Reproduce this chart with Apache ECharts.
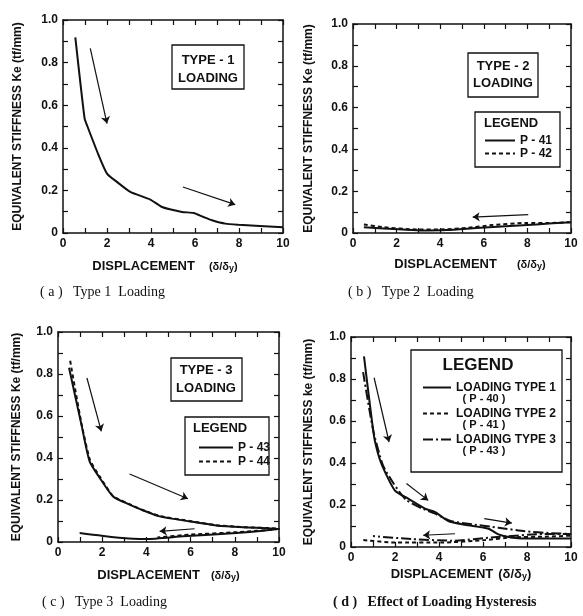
<!DOCTYPE html>
<html>
<head>
<meta charset="utf-8">
<script src="https://cdn.jsdelivr.net/npm/echarts@6/dist/echarts.min.js"></script>
<style>html,body{margin:0;padding:0;background:#fff}#c{width:583px;height:616px}</style>
</head>
<body>
<div id="c"></div>
<script>
// ---------------- data (x = displacement δ/δy, y = Ke tf/mm) ----------------
const xTickValues = [0, 2, 4, 6, 8, 10];
const yTickValues = [0, 0.2, 0.4, 0.6, 0.8, 1.0];

// (a) Type 1 loading
const a_P40 = [[0.56,0.918],[0.98,0.538],[1.09,0.506],[1.62,0.365],[2.0,0.279],[2.45,0.24],[3.06,0.193],[3.97,0.157],[4.5,0.122],[5.41,0.099],[5.94,0.094],[6.39,0.075],[6.77,0.06],[7.38,0.044],[7.98,0.039],[10,0.027]];
// (b) Type 2 loading
const b_P41 = [[0.5,0.028],[1.85,0.019],[3.07,0.012],[4.3,0.014],[5.67,0.024],[7.2,0.034],[8.4,0.041],[10,0.052]];
const b_P42 = [[0.5,0.041],[1.39,0.028],[2.92,0.017],[4.0,0.017],[5.2,0.024],[6.4,0.038],[7.97,0.048],[9.0,0.048],[10,0.052]];
// (c) Type 3 loading (out to 10, then back)
const c_P43 = [[0.5,0.83],[1.06,0.559],[1.43,0.384],[1.89,0.305],[2.49,0.217],[3.24,0.178],[3.77,0.154],[4.6,0.122],[5.96,0.098],[7.16,0.079],[8.37,0.07],[10,0.062],[8.07,0.043],[5.66,0.027],[4.0,0.014],[2.64,0.022],[0.98,0.043]];
const c_P44 = [[0.55,0.863],[1.06,0.565],[1.45,0.39],[1.9,0.31],[2.5,0.218],[3.24,0.18],[3.77,0.155],[4.6,0.124],[5.96,0.1],[7.16,0.08],[8.37,0.071],[10,0.063],[8.1,0.047],[6.0,0.035],[4.5,0.022]];
// (d) Effect of loading hysteresis
const d_T1 = [[0.59,0.908],[0.93,0.619],[1.08,0.508],[1.38,0.397],[1.99,0.27],[2.6,0.23],[3.36,0.183],[3.81,0.167],[4.42,0.124],[5.18,0.106],[6.25,0.087],[6.7,0.06],[7.16,0.048],[7.9,0.04],[10,0.04]];
const d_T2 = [[0.56,0.033],[2.0,0.021],[4.1,0.021],[6.1,0.033],[7.3,0.046],[8.8,0.049],[10,0.054]];
const d_T3 = [[0.55,0.833],[1.0,0.56],[1.45,0.39],[1.95,0.3],[2.5,0.225],[3.3,0.18],[3.8,0.16],[4.5,0.125],[5.5,0.108],[6.7,0.092],[7.9,0.075],[9.1,0.066],[10,0.062],[8.8,0.062],[6.5,0.046],[4.6,0.03],[2.76,0.038],[1.0,0.052]];

// direction arrows [start, end] in data units
const arrowsA = [[[1.24,0.867],[2.0,0.514]], [[5.45,0.216],[7.83,0.133]]];
const arrowsB = [[[8.04,0.088],[5.49,0.076]]];
const arrowsC = [[[1.31,0.781],[1.96,0.527]], [[3.24,0.324],[5.88,0.206]], [[6.18,0.063],[4.6,0.051]]];
const arrowsD = [[[1.05,0.806],[1.73,0.5]], [[2.52,0.302],[3.51,0.222]], [[6.06,0.135],[7.31,0.114]], [[4.73,0.063],[3.28,0.056]]];

// ---------------- layout ----------------
const INK = '#111';
const SANS = 'Liberation Sans';
const SERIF = 'Liberation Serif';
const grids = [
  {left:63,  top:20,  width:220, height:213},
  {left:353, top:24,  width:218, height:209},
  {left:58,  top:332, width:221, height:210},
  {left:351, top:337, width:220, height:210}
];
const xNameGap = [27, 25, 27, 21];
const xNamePad = [[0,16,0,0],[0,0,0,16],[0,0,0,0],[0,0,0,0]];
const xNameSpace = [14, 20, 11, 5];
const yNameGap = [39, 38, 35, 36];
const yNames = ['EQUIVALENT STIFFNESS Ke (tf/mm)','EQUIVALENT STIFFNESS Ke (tf/mm)','EQUIVALENT STIFFNESS Ke (tf/mm)','EQUIVALENT STIFFNESS ke (tf/mm)'];

const tickCommon = {
  axisLine:{show:true,onZero:false,lineStyle:{color:INK,width:1.5}},
  axisTick:{show:true,inside:true,length:5,lineStyle:{color:INK,width:1.2}},
  minorTick:{show:true,splitNumber:2,length:5,lineStyle:{color:INK,width:1.2}},
  splitLine:{show:false}, minorSplitLine:{show:false}
};

const xAxes = [], yAxes = [];
grids.forEach((g, i) => {
  xAxes.push(Object.assign({
    type:'value', gridIndex:i, position:'bottom', min:xTickValues[0], max:xTickValues[xTickValues.length-1], interval:2,
    axisLabel:{color:INK, fontSize:12, fontWeight:'bold', fontFamily:SANS, margin:5},
    name:'{m|DISPLACEMENT}{g|}{p|(δ/δ}{s|y}{p|)}', nameLocation:'middle', nameGap:xNameGap[i],
    nameTextStyle:{padding:xNamePad[i], rich:{
      m:{fontSize:13,fontWeight:'bold',fontFamily:SANS,color:INK},
      g:{width:xNameSpace[i]},
      p:{fontSize:i===3?13:11,fontWeight:'bold',fontFamily:SANS,color:INK},
      s:{fontSize:9,fontWeight:'bold',fontFamily:SANS,color:INK,verticalAlign:'bottom',padding:[3,0,0,0]}
    }}
  }, tickCommon));
  xAxes.push(Object.assign({
    type:'value', gridIndex:i, position:'top', min:0, max:10, interval:2, axisLabel:{show:false}
  }, tickCommon));
  yAxes.push(Object.assign({
    type:'value', gridIndex:i, position:'left', min:yTickValues[0], max:yTickValues[yTickValues.length-1], interval:0.2,
    axisLabel:{color:INK, fontSize:12, fontWeight:'bold', fontFamily:SANS, margin:5,
      formatter:v => v === 0 ? '0' : v.toFixed(1)},
    name:yNames[i], nameLocation:'middle', nameGap:yNameGap[i],
    nameTextStyle:{fontSize:12, fontWeight:'bold', fontFamily:SANS, color:INK}
  }, tickCommon));
  yAxes.push(Object.assign({
    type:'value', gridIndex:i, position:'right', min:0, max:1, interval:0.2, axisLabel:{show:false}
  }, tickCommon));
});

const SOLID = 'solid', DASH = [4,3], DASHDOT = [10,3,2,3];
function line(name, gi, data, type) {
  return {name, type:'line', xAxisIndex:2*gi, yAxisIndex:2*gi, data, symbol:'none', showSymbol:false, smooth:0.2,
    lineStyle:{color:INK, width:2, type}, itemStyle:{color:INK}, z:3, silent:true};
}
function arrows(gi, arr) {
  return {type:'lines', coordinateSystem:'cartesian2d', xAxisIndex:2*gi, yAxisIndex:2*gi,
    symbol:['none','arrow'], symbolSize:7, silent:true, z:4,
    lineStyle:{color:INK, width:1.2, opacity:1, curveness:0},
    data:arr.map(c => ({coords:c}))};
}

const series = [
  line('P-40', 0, a_P40, SOLID),
  line('P-41', 1, b_P41, SOLID),
  line('P-42', 1, b_P42, DASH),
  line('P-43', 2, c_P43, SOLID),
  line('P-44', 2, c_P44, DASH),
  line('LOADING TYPE 1', 3, d_T1, SOLID),
  line('LOADING TYPE 2', 3, d_T2, DASH),
  line('LOADING TYPE 3', 3, d_T3, DASHDOT),
  arrows(0, arrowsA), arrows(1, arrowsB), arrows(2, arrowsC), arrows(3, arrowsD)
];

const legendText = {color:INK, fontSize:12, fontWeight:'bold', fontFamily:SANS};
const hiddenSymbol = {opacity:0, borderWidth:0};
const legendLine = {width:2};
const legends = [
  {data:['P-41','P-42'], orient:'vertical', left:479, top:129, itemWidth:30, itemHeight:10, itemGap:0, itemStyle:hiddenSymbol, lineStyle:legendLine,
   textStyle:Object.assign({lineHeight:13}, legendText), formatter:n => n.replace('-', ' - '), selectedMode:false},
  {data:['P-43','P-44'], orient:'vertical', left:193, top:436, itemWidth:34, itemHeight:10, itemGap:1, itemStyle:hiddenSymbol, lineStyle:legendLine,
   textStyle:Object.assign({lineHeight:13}, legendText), formatter:n => n.replace('-', ' - '), selectedMode:false},
  {data:['LOADING TYPE 1','LOADING TYPE 2','LOADING TYPE 3'], orient:'vertical', left:417, top:376, itemWidth:28, itemHeight:10, itemGap:13, itemStyle:hiddenSymbol, lineStyle:legendLine,
   textStyle:Object.assign({lineHeight:13}, legendText), selectedMode:false}
];

function box(x, y, w, h) {
  return {type:'rect', shape:{x, y, width:w, height:h}, style:{fill:'none', stroke:INK, lineWidth:1.3}, silent:true};
}
function txt(s, x, y, size, align) {
  return {type:'text', x, y, silent:true,
    style:{text:s, fill:INK, font:'bold ' + size + 'px ' + SANS, align:align || 'center', verticalAlign:'middle'}};
}
const graphic = [
  box(172, 45, 72, 44), txt('TYPE - 1', 208, 60, 13), txt('LOADING', 208, 78, 13),
  box(468, 53, 70, 44), txt('TYPE - 2', 503, 66, 13), txt('LOADING', 503, 83, 13),
  box(475, 112, 85, 55), txt('LEGEND', 484, 123, 13, 'left'),
  box(171, 358, 71, 43), txt('TYPE - 3', 206, 370, 13), txt('LOADING', 206, 388, 13),
  box(185, 417, 84, 58), txt('LEGEND', 193, 428, 13, 'left'),
  box(411, 350, 151, 122), txt('LEGEND', 478, 365, 17),
  txt('( P - 40 )', 484, 399, 11), txt('( P - 41 )', 484, 425, 11), txt('( P - 43 )', 484, 451, 11)
];

const captions = [
  {text:'( a )   Type 1  Loading', left:40, top:285, fw:'normal'},
  {text:'( b )   Type 2  Loading', left:348, top:285, fw:'normal'},
  {text:'( c )   Type 3  Loading', left:42, top:595, fw:'normal'},
  {text:'( d )   Effect of Loading Hysteresis', left:333, top:595, fw:'bold'}
];

const chart = echarts.init(document.getElementById('c'), null, {renderer:'canvas'});
chart.setOption({
  animation:false,
  backgroundColor:'#ffffff',
  title:captions.map(c => ({text:c.text, left:c.left, top:c.top, padding:0,
    textStyle:{fontFamily:SERIF, fontSize:14, fontWeight:c.fw, color:INK}})),
  grid:grids,
  xAxis:xAxes,
  yAxis:yAxes,
  legend:legends,
  graphic:graphic,
  series:series
});
</script>
</body>
</html>
